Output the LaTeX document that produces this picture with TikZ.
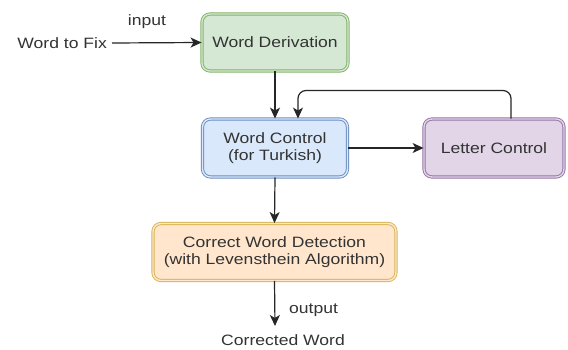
\documentclass[tikz,border=0pt]{standalone}
\usepackage{fontspec}
\setmainfont[FakeStretch=1.17]{Liberation Sans}
\usetikzlibrary{arrows.meta}
\definecolor{txt}{HTML}{333333}
\definecolor{greenF}{HTML}{D5E8D4}\definecolor{greenS}{HTML}{82B366}
\definecolor{blueF}{HTML}{DAE8FC}\definecolor{blueS}{HTML}{6C8EBF}
\definecolor{purpF}{HTML}{E1D5E7}\definecolor{purpS}{HTML}{9673A6}
\definecolor{orgF}{HTML}{FFE6CC}\definecolor{orgS}{HTML}{D6B656}
\tikzset{
  box/.style={rounded corners=8pt, line width=0.9pt, double distance=1.4pt,
    align=center, text=txt, inner sep=0pt, font=\fontsize{15}{17}\selectfont},
  lbl/.style={text=txt, inner sep=0pt, font=\fontsize{15}{17}\selectfont},
  link/.style={line width=1.2pt, draw=black!85,
    -{Stealth[length=11pt,width=10pt,inset=3pt]}},
}
\begin{document}
\begin{tikzpicture}[x=1pt,y=-1pt]
\useasboundingbox (0,0) rectangle (568,350);
\fill[white] (0,0) rectangle (568,350);

\node[box, draw=greenS, double=greenF, fill=greenF, minimum width=146pt, minimum height=57pt]
  (deriv) at (275,42.5) {Word Derivation};
\node[box, draw=blueS, double=blueF, fill=blueF, minimum width=145pt, minimum height=58pt]
  (wctrl) at (275,148) {Word Control\\(for Turkish)};
\node[box, draw=purpS, double=purpF, fill=purpF, minimum width=140pt, minimum height=58pt]
  (lctrl) at (494,148) {Letter Control};
\node[box, draw=orgS, double=orgF, fill=orgF, minimum width=243pt, minimum height=57pt]
  (detect) at (274.5,252) {Correct Word Detection\\(with Levensthein Algorithm)};

\node[lbl, anchor=east] (fix) at (107,43) {Word to Fix};
\node[lbl] (in) at (147,22) {input};
\node[lbl] (out) at (313.5,310) {output};
\node[lbl] (cw) at (283,340) {Corrected Word};
\coordinate (cwtop) at (275,326);

\draw[link] (fix.east) ++(5,0) -- (deriv.west);
\draw[link] (deriv.south) -- (wctrl.north);
\draw[link] (wctrl.east) -- (lctrl.west);
\draw[link] (wctrl.south) -- (detect.north);
\draw[link] (detect.south) -- (cwtop);
\draw[link, rounded corners=8pt] (lctrl.north -| 511,0) -- (511,90.5) -- (298,90.5) -- (wctrl.north -| 298,0);
\end{tikzpicture}
\end{document}
